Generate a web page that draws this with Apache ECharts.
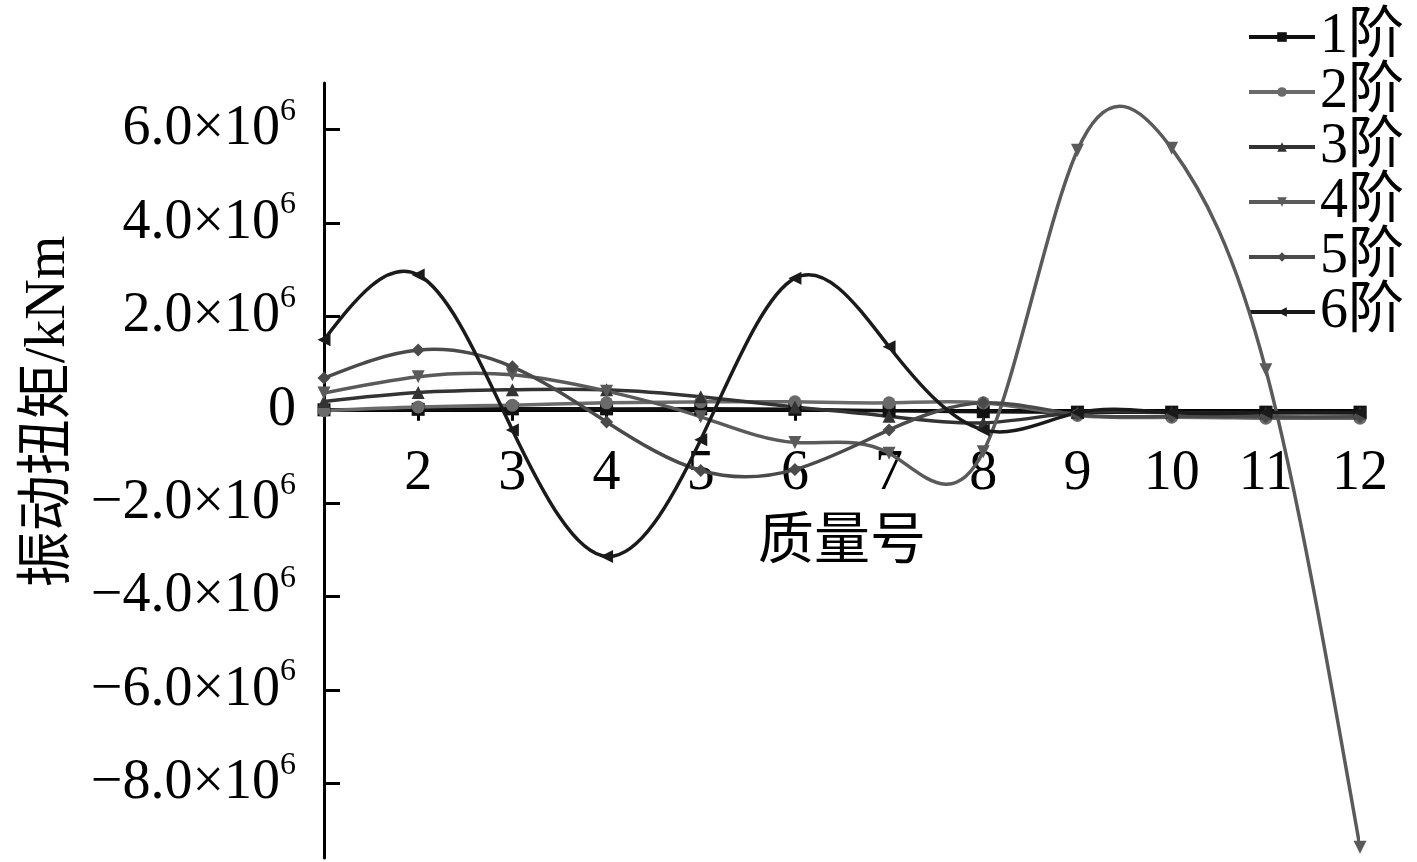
<!DOCTYPE html>
<html><head><meta charset="utf-8">
<script src="https://cdn.jsdelivr.net/npm/echarts@6/dist/echarts.min.js"></script>
<style>html,body{margin:0;padding:0;background:#fff}#c{width:1417px;height:862px}</style>
</head><body><div id="c"></div>
<script>
const massNo = [1,2,3,4,5,6,7,8,9,10,11,12];
const seriesNames = ['1阶','2阶','3阶','4阶','5阶','6阶'];
// values in units of 1e6 kNm
const mode1 = [0.00, 0.01, 0.02, 0.02, 0.02, 0.01, -0.02, -0.04, -0.05, -0.05, -0.05, -0.05];
const mode2 = [-0.02, 0.06, 0.10, 0.15, 0.17, 0.17, 0.15, 0.15, -0.12, -0.16, -0.18, -0.18];
const mode3 = [0.18, 0.37, 0.43, 0.43, 0.28, 0.06, -0.14, -0.28, -0.06, -0.06, -0.07, -0.07];
const mode4 = [0.36, 0.71, 0.75, 0.40, -0.15, -0.70, -0.93, -0.90, 5.56, 5.60, 0.86, -9.37];
const mode5 = [0.68, 1.28, 0.92, -0.26, -1.30, -1.28, -0.43, 0.15, -0.10, -0.14, -0.15, -0.15];
const mode6 = [1.50, 2.89, -0.43, -3.14, -0.64, 2.82, 1.35, -0.43, -0.06, -0.06, -0.06, -0.06];
const xTickLabels = ['', '2', '3', '4', '5', '6', '7', '8', '9', '10', '11', '12'];
const yTicks = [-8e6, -6e6, -4e6, -2e6, 0, 2e6, 4e6, 6e6];

const allModes = [mode1, mode2, mode3, mode4, mode5, mode6];
const colors = ['#111111', '#6a6a6a', '#333333', '#5a5a5a', '#4a4a4a', '#1a1a1a'];
const symbols = ['rect', 'circle', 'triangle', 'triangle', 'diamond', 'triangle'];
const rotates = [0, 0, 0, 180, 0, 90];
const FONT = '"Liberation Serif", "Times New Roman", "Noto Sans CJK SC", serif';

// natural cubic spline second derivatives (curve through the data points)
function splineM(xs, ys) {
  const n = xs.length, M = new Array(n).fill(0);
  const a = [], b = [], c = [], d = [];
  for (let i = 1; i < n - 1; i++) {
    const h0 = xs[i] - xs[i - 1], h1 = xs[i + 1] - xs[i];
    a.push(h0); b.push(2 * (h0 + h1)); c.push(h1);
    d.push(6 * ((ys[i + 1] - ys[i]) / h1 - (ys[i] - ys[i - 1]) / h0));
  }
  const m = b.length;
  for (let i = 1; i < m; i++) {
    const w = a[i] / b[i - 1];
    b[i] -= w * c[i - 1]; d[i] -= w * d[i - 1];
  }
  const sol = new Array(m);
  for (let i = m - 1; i >= 0; i--) sol[i] = (d[i] - (i < m - 1 ? c[i] * sol[i + 1] : 0)) / b[i];
  for (let i = 0; i < m; i++) M[i + 1] = sol[i];
  return M;
}

function splineSeries(arr, i) {
  const pts = massNo.map((x, j) => [x, arr[j] * 1e6]);
  const M = splineM(massNo, pts.map(p => p[1]));
  return {
    name: seriesNames[i] + '-curve',
    type: 'custom',
    coordinateSystem: 'cartesian2d',
    data: pts,
    encode: { x: 0, y: 1 },
    clip: true,
    silent: true,
    z: 2 + i,
    renderItem: function (params, api) {
      const k = params.dataIndex;
      const n = pts.length;
      if (k >= n - 1) return null;
      const x0 = pts[k][0], x1 = pts[k + 1][0], y0 = pts[k][1], y1 = pts[k + 1][1];
      const h = x1 - x0;
      const s0 = (y1 - y0) / h - h * (2 * M[k] + M[k + 1]) / 6;
      const s1 = (y1 - y0) / h + h * (M[k] + 2 * M[k + 1]) / 6;
      const p1 = api.coord([x0, y0]);
      const p2 = api.coord([x1, y1]);
      const c1 = api.coord([x0 + h / 3, y0 + s0 * h / 3]);
      const c2 = api.coord([x1 - h / 3, y1 - s1 * h / 3]);
      return {
        type: 'bezierCurve',
        shape: { x1: p1[0], y1: p1[1], x2: p2[0], y2: p2[1], cpx1: c1[0], cpy1: c1[1], cpx2: c2[0], cpy2: c2[1] },
        style: { stroke: colors[i], lineWidth: 3.5, fill: null, lineCap: 'round' }
      };
    }
  };
}

function markerSeries(arr, i) {
  return {
    name: seriesNames[i],
    type: 'line',
    data: massNo.map((x, j) => [x, arr[j] * 1e6]),
    symbol: symbols[i],
    symbolRotate: rotates[i],
    symbolSize: 13,
    showAllSymbol: true,
    itemStyle: { color: colors[i] },
    lineStyle: { color: colors[i], width: 0, opacity: 0 },
    z: 10 + i
  };
}

const chart = echarts.init(document.getElementById('c'));
chart.setOption({
  animation: false,
  backgroundColor: '#fff',
  textStyle: { fontFamily: FONT },
  grid: { left: 324, right: 57, top: 83, bottom: 4, containLabel: false, outerBoundsMode: 'none' },
  legend: {
    orient: 'vertical', left: 1242, top: 4,
    itemWidth: 66, itemHeight: 12, itemGap: -1,
    lineStyle: { width: 4, opacity: 1 },
    textStyle: { fontSize: 56, fontFamily: FONT, color: '#000' },
    data: seriesNames
  },
  xAxis: [{
    type: 'value', min: 1, max: 12, interval: 1,
    axisLine: { onZero: true, lineStyle: { color: '#000', width: 3 } },
    axisTick: { show: true, length: 11, lineStyle: { color: '#000', width: 3 } },
    axisLabel: { show: false },
    splitLine: { show: false }
  }, {
    type: 'value', min: 1, max: 12, interval: 1, position: 'bottom', offset: -448,
    name: '质量号', nameLocation: 'middle', nameGap: 105,
    nameTextStyle: { fontSize: 56, fontFamily: FONT, color: '#000' },
    axisLine: { show: false, onZero: false },
    axisTick: { show: false },
    axisLabel: { show: true, fontSize: 56, color: '#000', margin: 36, fontFamily: FONT,
      formatter: v => xTickLabels[Math.round(v) - 1] || '' },
    splitLine: { show: false }
  }],
  yAxis: {
    type: 'value', min: -9.6e6, max: 7e6,
    name: '振动扭矩/kNm', nameLocation: 'middle', nameGap: 247,
    nameTextStyle: { fontSize: 56, fontFamily: FONT, color: '#000', padding: [0, 0, 0, 118] },
    axisLine: { show: true, onZero: false, lineStyle: { color: '#000', width: 3 } },
    axisTick: { show: true, inside: true, length: 16, customValues: yTicks, lineStyle: { color: '#000', width: 3 } },
    axisLabel: {
      customValues: yTicks, margin: 28, color: '#000', fontFamily: FONT, fontSize: 56,
      formatter: v => {
        if (Math.abs(v) < 1) return '{b|0}';
        const m = v / 1e6;
        const s = (m < 0 ? '\u2212' : '') + Math.abs(m).toFixed(1);
        return '{b|' + s + '×10}{s|6}';
      },
      rich: {
        b: { fontSize: 56, fontFamily: FONT, color: '#000' },
        s: { fontSize: 32, fontFamily: FONT, color: '#000', padding: [0, 0, 36, 0] }
      }
    },
    splitLine: { show: false }
  },
  series: allModes.map(splineSeries).concat(allModes.map(markerSeries))
});
</script></body></html>
